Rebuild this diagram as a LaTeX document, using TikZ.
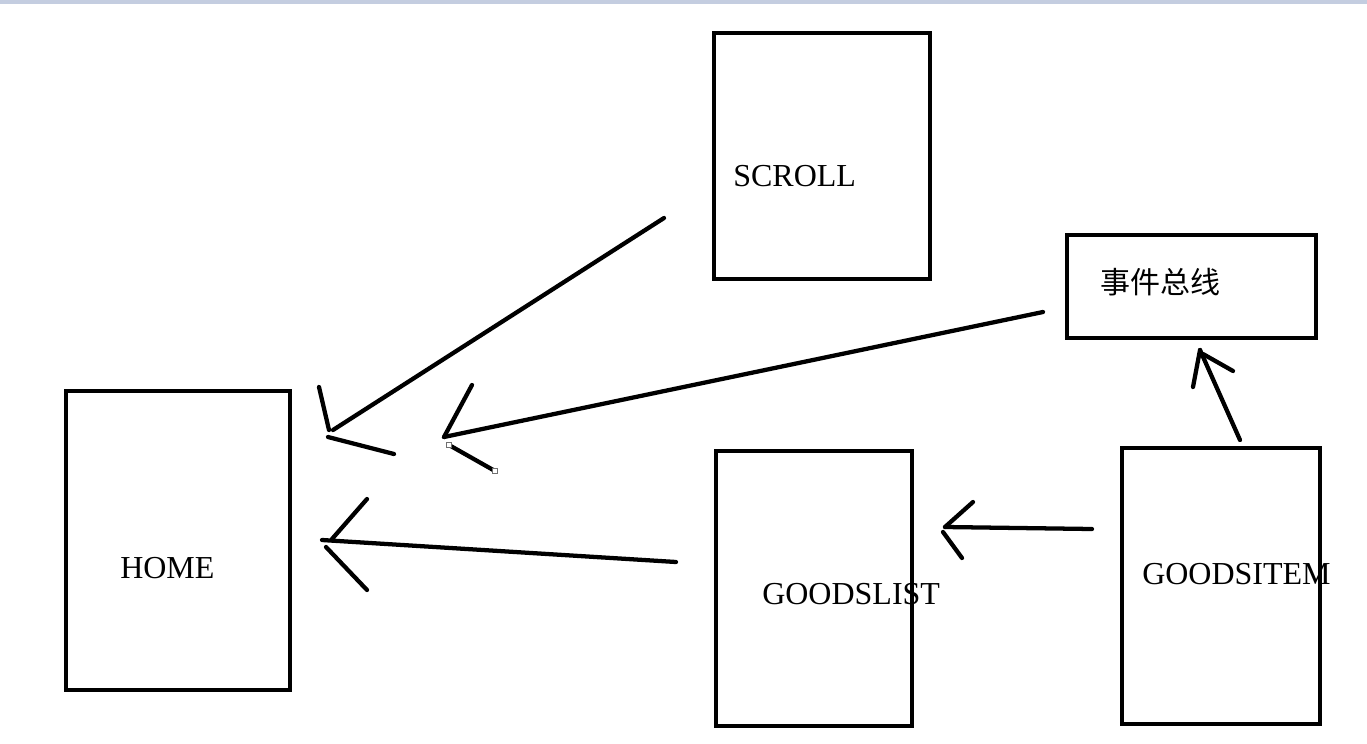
\documentclass[tikz,border=0pt]{standalone}
\usepackage{fontspec}
\setmainfont{Liberation Serif}
\newfontfamily\cjk{Noto Sans CJK SC}
\definecolor{bandblue}{HTML}{C4CDE0}
\definecolor{handlegray}{HTML}{707070}
\begin{document}
\begin{tikzpicture}[x=0.75pt,y=-0.75pt,
  boxst/.style={draw=black,line width=3.6pt,inner sep=0pt,outer sep=0pt},
  stroke/.style={line width=3.2pt,line cap=round,black},
  lbl/.style={anchor=base west,inner sep=0pt,font=\fontsize{24}{28}\selectfont},
  handle/.style={draw=handlegray,fill=white,line width=0.6pt,minimum size=3.5pt,inner sep=0pt}]
\useasboundingbox (0,0) rectangle (1367,743);
\fill[white] (0,0) rectangle (1367,743);
\fill[bandblue] (0,0) rectangle (1367,4);
% boxes
\draw[boxst] (714,33) rectangle (930,279);
\draw[boxst] (1067,235) rectangle (1316,338);
\draw[boxst] (66,391) rectangle (290,690);
\draw[boxst] (716,451) rectangle (912,726);
\draw[boxst] (1122,448) rectangle (1320,724);
% labels
\node[lbl] (tscroll) at (733,186) {SCROLL};
\node[anchor=west,inner sep=0pt,font=\cjk\fontsize{22.5}{26}\selectfont] (tbus) at (1100,282) {事件总线};
\node[lbl] (thome) at (120,578) {HOME};
\node[lbl] (tlist) at (762,604) {GOODSLIST};
\node[lbl] (titem) at (1142,584) {GOODSITEM};
% arrow 1: SCROLL -> HOME
\coordinate (a1s) at (664,218);
\coordinate (a1e) at (333,430);
\coordinate (a1p) at (319,387);
\coordinate (a1q) at (329,430);
\coordinate (a1r) at (328,437);
\coordinate (a1t) at (394,454);
\draw[stroke] (a1s) -- (a1e);
\draw[stroke] (a1p) -- (a1q);
\draw[stroke] (a1r) -- (a1t);
% arrow 2: bus -> HOME
\coordinate (a2s) at (1043,312);
\coordinate (a2e) at (444,437);
\coordinate (a2p) at (472,385);
\coordinate (a2r) at (449,445);
\coordinate (a2t) at (495,471);
\draw[stroke] (a2s) -- (a2e);
\draw[stroke] (a2p) -- (a2e);
\draw[stroke] (a2r) -- (a2t);
\node[handle] (h1) at (a2r) {};
\node[handle] (h2) at (a2t) {};
% arrow 3: GOODSLIST -> HOME
\coordinate (a3s) at (676,562);
\coordinate (a3e) at (322,540);
\coordinate (a3p) at (367,499);
\coordinate (a3q) at (332,539);
\coordinate (a3r) at (326,547);
\coordinate (a3t) at (367,590);
\draw[stroke] (a3s) -- (a3e);
\draw[stroke] (a3p) -- (a3q);
\draw[stroke] (a3r) -- (a3t);
% arrow 4: GOODSITEM -> GOODSLIST
\coordinate (a4s) at (1092,529);
\coordinate (a4e) at (945,527);
\coordinate (a4p) at (973,502);
\coordinate (a4r) at (943,532);
\coordinate (a4t) at (962,558);
\draw[stroke] (a4s) -- (a4e);
\draw[stroke] (a4p) -- (a4e);
\draw[stroke] (a4r) -- (a4t);
% arrow 5: GOODSITEM -> bus
\coordinate (a5s) at (1240,440);
\coordinate (a5e) at (1200,350);
\coordinate (a5p) at (1193,387);
\coordinate (a5r) at (1203,354);
\coordinate (a5t) at (1233,371);
\draw[stroke] (a5s) -- (a5e);
\draw[stroke] (a5e) -- (a5p);
\draw[stroke] (a5r) -- (a5t);
\end{tikzpicture}
\end{document}
